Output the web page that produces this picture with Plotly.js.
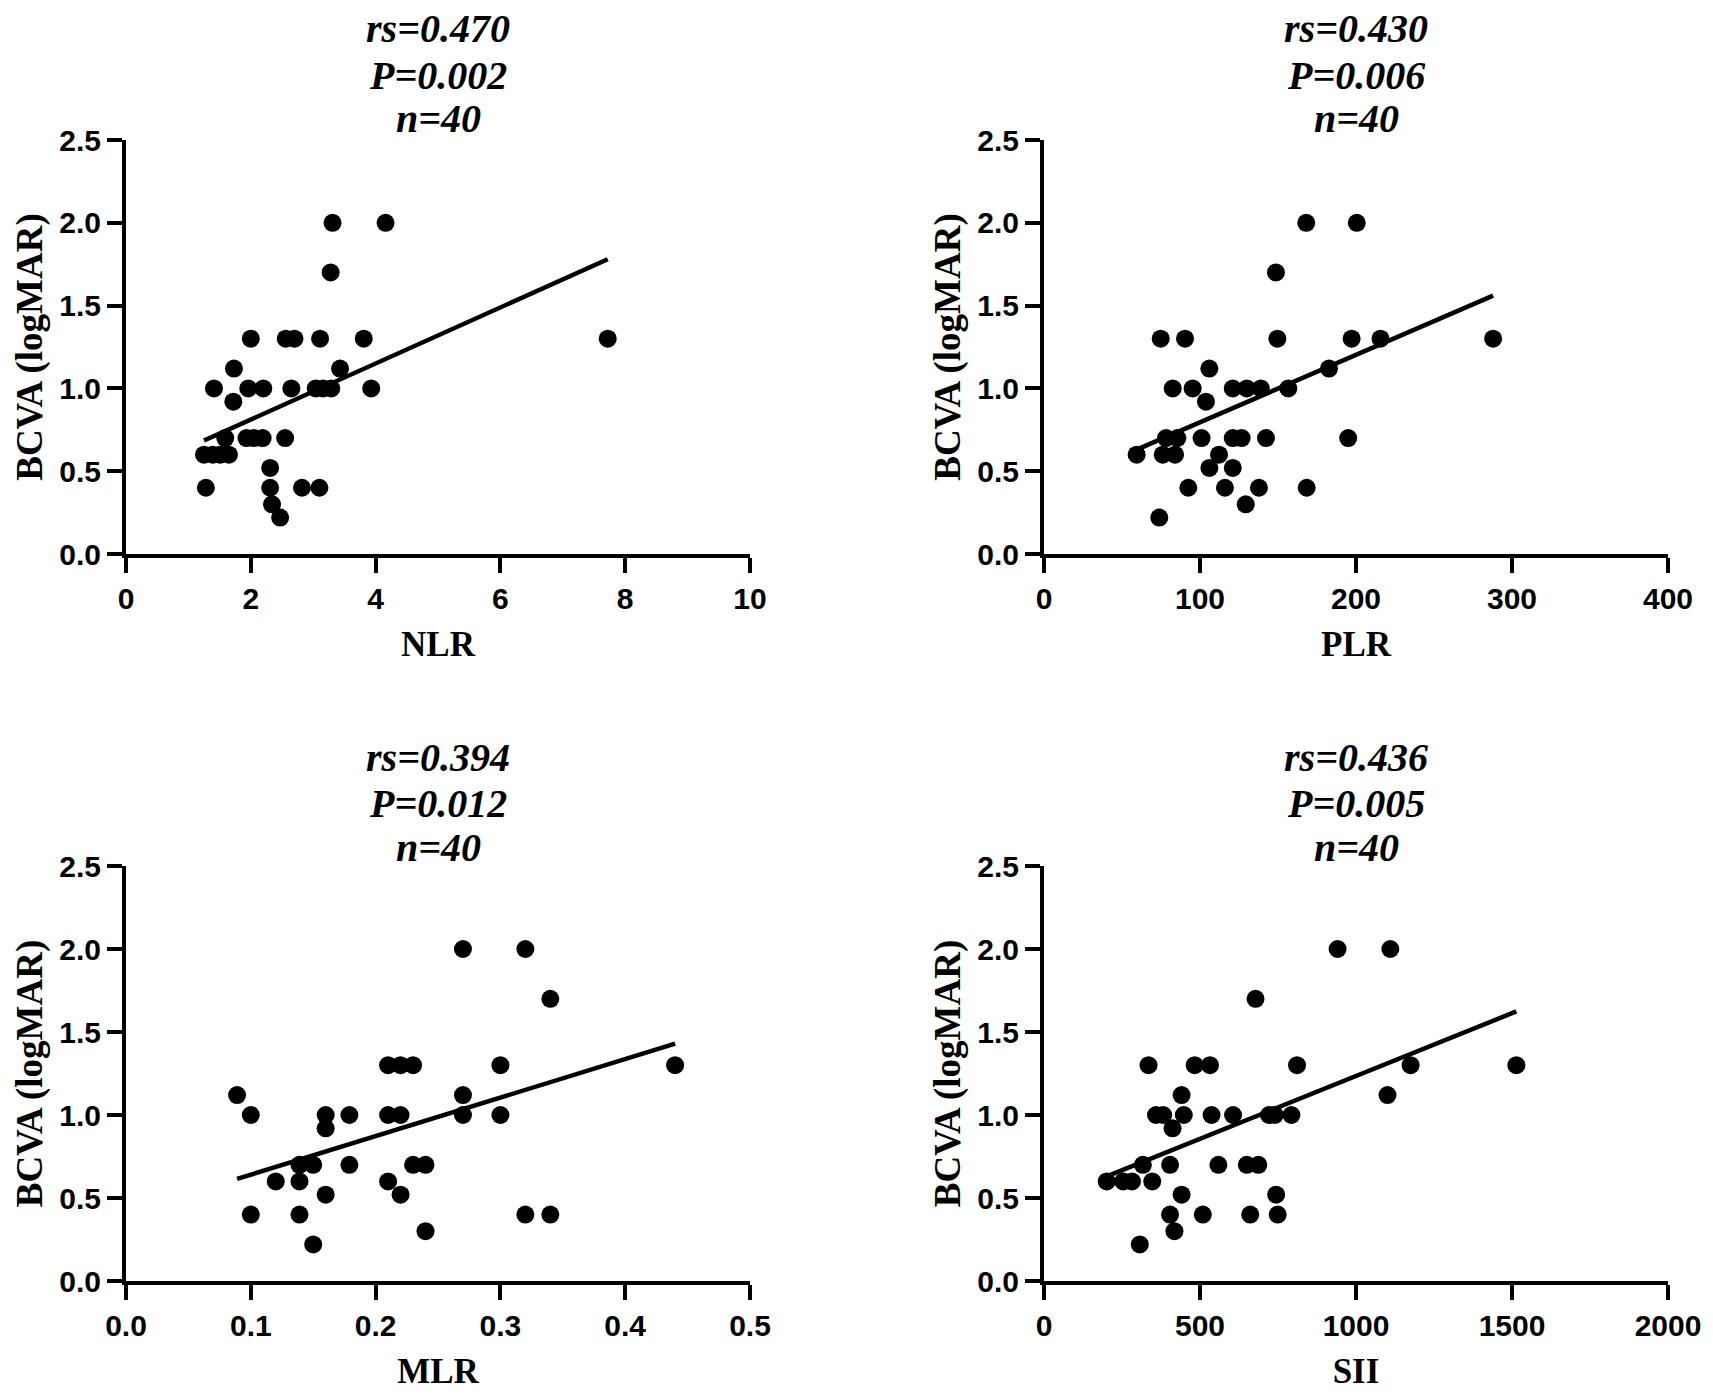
<!DOCTYPE html>
<html>
<head>
<meta charset="utf-8">
<script src="https://cdn.plot.ly/plotly-3.0.1.min.js"></script>
<style>
  body { margin: 0; background: #fff; }
  #chart { width: 1713px; height: 1400px; }
</style>
</head>
<body>
<div id="chart"></div>
<script>

// ---------- data ----------

// NLR vs BCVA
let nlrX = [2.00, 2.56, 2.70, 3.11, 3.81, 7.72, 1.73, 3.43, 1.41, 1.96, 2.20, 2.65, 3.04, 3.16, 3.29, 3.93,
            1.72, 1.59, 1.93, 2.05, 2.19, 2.55, 1.25, 1.39, 1.51, 1.65, 2.31, 1.28, 2.31, 2.82, 3.10,
            2.34, 2.47, 3.31, 4.16, 3.28];
let nlrY = [1.30, 1.30, 1.30, 1.30, 1.30, 1.30, 1.12, 1.12, 1.00, 1.00, 1.00, 1.00, 1.00, 1.00, 1.00, 1.00,
            0.92, 0.70, 0.70, 0.70, 0.70, 0.70, 0.60, 0.60, 0.60, 0.60, 0.52, 0.40, 0.40, 0.40, 0.40,
            0.30, 0.22, 2.00, 2.00, 1.70];
let nlrFitX = [1.25, 7.72];
let nlrFitY = [0.685, 1.78];

// PLR vs BCVA
let plrX = [74.8, 90.4, 149.6, 197.2, 215.7, 287.9, 106.0, 182.7, 82.5, 95.3, 121.0, 130.0, 139.0, 156.6,
            103.8, 78.2, 85.5, 101.0, 121.0, 126.7, 142.3, 195.0, 59.4, 76.1, 84.0, 112.2, 106.0, 121.0,
            92.5, 116.0, 137.8, 168.4, 129.3, 73.9, 148.7, 168.1, 200.5];
let plrY = [1.30, 1.30, 1.30, 1.30, 1.30, 1.30, 1.12, 1.12, 1.00, 1.00, 1.00, 1.00, 1.00, 1.00,
            0.92, 0.70, 0.70, 0.70, 0.70, 0.70, 0.70, 0.70, 0.60, 0.60, 0.60, 0.60, 0.52, 0.52,
            0.40, 0.40, 0.40, 0.40, 0.30, 0.22, 1.70, 2.00, 2.00];
let plrFitX = [59.4, 287.9];
let plrFitY = [0.63, 1.56];

// MLR vs BCVA
let mlrX = [0.089, 0.100, 0.100, 0.120, 0.139, 0.139, 0.139, 0.150, 0.150, 0.160, 0.160, 0.160, 0.179,
            0.179, 0.210, 0.220, 0.230, 0.210, 0.220, 0.210, 0.220, 0.230, 0.240, 0.240, 0.270, 0.270,
            0.270, 0.300, 0.300, 0.320, 0.320, 0.340, 0.340, 0.440];
let mlrY = [1.12, 1.00, 0.40, 0.60, 0.60, 0.70, 0.40, 0.70, 0.22, 1.00, 0.92, 0.52, 1.00,
            0.70, 1.30, 1.30, 1.30, 1.00, 1.00, 0.60, 0.52, 0.70, 0.70, 0.30, 2.00, 1.12,
            1.00, 1.30, 1.00, 2.00, 0.40, 1.70, 0.40, 1.30];
let mlrFitX = [0.089, 0.440];
let mlrFitY = [0.615, 1.43];

// SII vs BCVA
let siiX = [201, 254, 282, 317, 335, 347, 307, 359, 382, 412, 404, 404, 418, 441, 448, 441, 483, 532, 509,
            537, 559, 606, 650, 687, 661, 678, 721, 740, 793, 744, 749, 811, 941, 1110, 1101, 1175, 1514];
let siiY = [0.60, 0.60, 0.60, 0.70, 1.30, 0.60, 0.22, 1.00, 1.00, 0.92, 0.70, 0.40, 0.30, 1.12, 1.00, 0.52,
            1.30, 1.30, 0.40, 1.00, 0.70, 1.00, 0.70, 0.70, 0.40, 1.70, 1.00, 1.00, 1.00, 0.52, 0.40,
            1.30, 2.00, 2.00, 1.12, 1.30, 1.30];
let siiFitX = [201, 1514];
let siiFitY = [0.63, 1.624];

// panel labels
let xTitles = ["NLR", "PLR", "MLR", "SII"];
let rsTexts = ["rs=0.470", "rs=0.430", "rs=0.394", "rs=0.436"];
let pTexts = ["P=0.002", "P=0.006", "P=0.012", "P=0.005"];
let nTexts = ["n=40", "n=40", "n=40", "n=40"];
let yTitle = "BCVA (logMAR)";


// ---------- styling helpers ----------

const W = 1713, H = 1400;

const tickFont = {
    family: "Arial, 'Liberation Sans', sans-serif",
    size: 30,
    color: "#000",
    weight: 700
};

const serif = "'Times New Roman', 'Liberation Serif', serif";

// pixel boxes of the four plot areas (left, right, top, bottom)
const boxes = [
    [126, 750, 140, 554],
    [1044, 1668, 140, 554],
    [126, 750, 866, 1281],
    [1044, 1668, 866, 1281]
];

// pixel centres of the three statistic lines above each panel
const statRows = [
    [28, 75, 119],
    [28, 75, 119],
    [757, 803, 847],
    [757, 803, 847]
];

const xRanges = [[0, 10], [0, 400], [0, 0.5], [0, 2000]];
const xDticks = [2, 100, 0.1, 500];

function axisBase() {
    return {
        showgrid: false,
        zeroline: false,
        showline: true,
        linecolor: "#000",
        linewidth: 4,
        ticks: "outside",
        ticklen: 15,
        tickwidth: 4,
        tickcolor: "#000",
        tickfont: tickFont,
        fixedrange: true
    };
}


// ---------- build figure ----------

let xs = [nlrX, plrX, mlrX, siiX];
let ys = [nlrY, plrY, mlrY, siiY];
let fitXs = [nlrFitX, plrFitX, mlrFitX, siiFitX];
let fitYs = [nlrFitY, plrFitY, mlrFitY, siiFitY];

let traces = [];
let layout = {
    width: W,
    height: H,
    margin: { l: 0, r: 0, t: 0, b: 0 },
    paper_bgcolor: "#fff",
    plot_bgcolor: "#fff",
    showlegend: false,
    annotations: []
};

for (let i = 0; i < 4; i++) {

    let suffix = i === 0 ? "" : String(i + 1);
    let xa = "x" + suffix;
    let ya = "y" + suffix;
    let b = boxes[i];

    traces.push({
        x: xs[i],
        y: ys[i],
        xaxis: xa,
        yaxis: ya,
        type: "scatter",
        mode: "markers",
        marker: { color: "#000", size: 18 },
        cliponaxis: false,
        hoverinfo: "skip"
    });

    traces.push({
        x: fitXs[i],
        y: fitYs[i],
        xaxis: xa,
        yaxis: ya,
        type: "scatter",
        mode: "lines",
        line: { color: "#000", width: 4.5 },
        hoverinfo: "skip"
    });

    let xaxis = axisBase();
    xaxis.domain = [b[0] / W, b[1] / W];
    xaxis.anchor = ya;
    xaxis.range = xRanges[i];
    xaxis.dtick = xDticks[i];
    xaxis.tick0 = 0;
    xaxis.tickformat = i === 2 ? ".1f" : "d";
    xaxis.title = {
        text: xTitles[i],
        font: { family: serif, size: 35, color: "#000", weight: 700 },
        standoff: 18
    };

    let yaxis = axisBase();
    yaxis.domain = [1 - b[3] / H, 1 - b[2] / H];
    yaxis.anchor = xa;
    yaxis.range = [0, 2.5];
    yaxis.dtick = 0.5;
    yaxis.tick0 = 0;
    yaxis.tickformat = ".1f";
    yaxis.title = {
        text: yTitle,
        font: { family: serif, size: 37, color: "#000", weight: 700 },
        standoff: 6
    };

    layout["xaxis" + suffix] = xaxis;
    layout["yaxis" + suffix] = yaxis;

    // correlation statistics above each panel, one line each
    let lines = [rsTexts[i], pTexts[i], nTexts[i]];
    lines.forEach((txt, k) => {
        layout.annotations.push({
            xref: "paper",
            yref: "paper",
            x: (b[0] + b[1]) / 2 / W,
            y: 1 - statRows[i][k] / H,
            xanchor: "center",
            yanchor: "middle",
            showarrow: false,
            text: txt,
            font: {
                family: serif,
                size: 40,
                color: "#000",
                weight: 700,
                style: "italic"
            }
        });
    });
}

Plotly.newPlot("chart", traces, layout, { staticPlot: true, displayModeBar: false });

</script>
</body>
</html>
